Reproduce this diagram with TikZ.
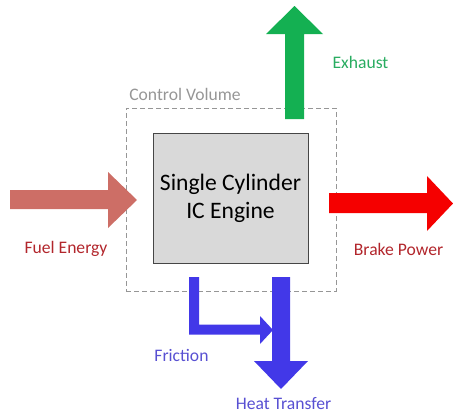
\documentclass[tikz,border=0pt]{standalone}
\usepackage{fontspec}
\setmainfont{Carlito}
\definecolor{fuelarrow}{RGB}{205,110,102}
\definecolor{fueltext}{RGB}{178,38,44}
\definecolor{brakearrow}{RGB}{245,0,0}
\definecolor{exharrow}{RGB}{20,176,82}
\definecolor{exhtext}{RGB}{40,172,96}
\definecolor{bluearrow}{RGB}{66,56,232}
\definecolor{bluetext}{RGB}{88,80,210}
\definecolor{cvgray}{RGB}{150,150,150}
\definecolor{engfill}{RGB}{217,217,217}
\definecolor{engedge}{RGB}{70,70,70}
\tikzset{
  lbl/.style={font=\fontsize{17.6}{20}\selectfont, inner sep=0pt},
}
\begin{document}
\begin{tikzpicture}[x=1pt,y=-1pt]
\useasboundingbox (0,0) rectangle (453,415);
% control volume
\node[draw=cvgray, dash pattern=on 5pt off 3pt, line width=0.8pt, minimum width=210pt, minimum height=183pt, inner sep=0pt] (cv) at (231,199.5) {};
\node[lbl, text=cvgray] (cvlabel) at (185,94) {Control Volume};
% engine
\node[draw=engedge, fill=engfill, line width=0.9pt, minimum width=155pt, minimum height=130pt, inner sep=0pt, align=center, font=\fontsize{23.6}{28}\selectfont] (engine) at (230.5,198) {Single Cylinder\\IC Engine};
% exhaust arrow
\fill[exharrow] (285,119) -- (285,34) -- (266,34) -- (294.5,6) -- (323,34) -- (304,34) -- (304,119) -- cycle;
\node[lbl, text=exhtext] (exh) at (360.5,62) {Exhaust};
% fuel arrow
\fill[fuelarrow] (10,190) -- (108,190) -- (108,172) -- (137,200) -- (108,228) -- (108,209) -- (10,209) -- cycle;
\node[lbl, text=fueltext] (fuel) at (66,249) {Fuel Energy};
% brake arrow
\fill[brakearrow] (329,193) -- (427,193) -- (427,176) -- (453,203.5) -- (427,231) -- (427,213) -- (329,213) -- cycle;
\node[lbl, text=fueltext] (brake) at (398.5,249) {Brake Power};
% friction arrow
\fill[bluearrow] (189,277) -- (199,277) -- (199,324.5) -- (260,324.5) -- (260,316) -- (273,330) -- (260,344) -- (260,334.5) -- (189,334.5) -- cycle;
\node[lbl, text=bluetext] (fric) at (181.5,355) {Friction};
% heat transfer arrow
\fill[bluearrow] (272,277) -- (290,277) -- (290,361) -- (308,361) -- (281,389) -- (254,361) -- (272,361) -- cycle;
\node[lbl, text=bluetext] (heat) at (283.5,404) {Heat Transfer};
\end{tikzpicture}
\end{document}
